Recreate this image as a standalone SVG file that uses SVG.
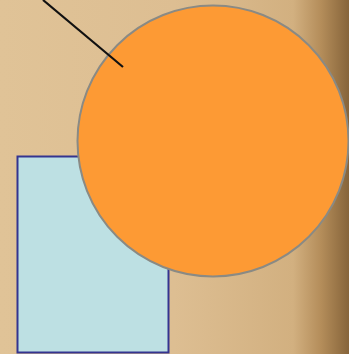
<svg xmlns="http://www.w3.org/2000/svg" width="349" height="354" viewBox="0 0 349 354">
<defs>
<linearGradient id="bg" x1="0" y1="0" x2="1" y2="0">
<stop offset="0" stop-color="#e0c397"/>
<stop offset="0.5" stop-color="#ddbe92"/>
<stop offset="0.84" stop-color="#d2b080"/>
<stop offset="0.92" stop-color="#b48d5a"/>
<stop offset="1" stop-color="#86643a"/>
</linearGradient>
<style>
.rect{fill:#bde0e3;stroke:#343490;stroke-width:2}
.circ{fill:#fd9a34;stroke:#8a8a84;stroke-width:2}
.conn{stroke:#111;stroke-width:2.2;fill:none}
</style>
</defs>
<rect width="349" height="354" fill="url(#bg)"/>
<g id="rect-node"><rect class="rect" x="17.5" y="156.5" width="151" height="196"/></g>
<g id="circle-node"><circle class="circ" cx="213" cy="141" r="135.5"/></g>
<g id="connectors"><line class="conn" x1="43" y1="0" x2="123" y2="67"/></g>
</svg>
